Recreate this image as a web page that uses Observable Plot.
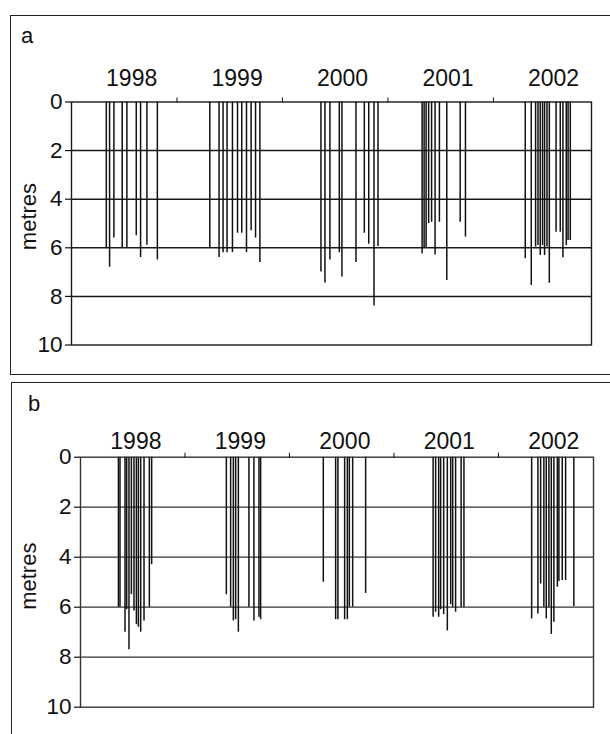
<!DOCTYPE html>
<html>
<head>
<meta charset="utf-8">
<script src="https://cdn.jsdelivr.net/npm/d3@7"></script>
<script src="https://cdn.jsdelivr.net/npm/@observablehq/plot@0.6"></script>
<style>
  html, body { margin: 0; padding: 0; background: #fff; }
  body { width: 610px; height: 734px; position: relative; overflow: hidden; font-family: "Liberation Sans", Arial, sans-serif; }
  .panel { position: absolute; border: 1.5px solid #222; box-sizing: border-box; }
  .plabel { position: absolute; font-size: 22px; color: #111; }
  .chart { position: absolute; left: 0; }
</style>
</head>
<body>
<div class="panel" style="left:10px; top:15px; width:640px; height:360px;"></div>
<div class="panel" style="left:11px; top:382px; width:640px; height:400px;"></div>
<div class="plabel" style="left:21px; top:23px;">a</div>
<div class="plabel" style="left:28px; top:391px;">b</div>
<div id="chartA" class="chart" style="top:15px;"></div>
<div id="chartB" class="chart" style="top:382px;"></div>
<script>
const years = [1998, 1999, 2000, 2001, 2002];
const yearBoundaries = [1999, 2000, 2001, 2002];
const depthTicks = [0, 2, 4, 6, 8, 10];
const gridDepths = [2, 4, 6, 8];

// Panel a: sampling times (decimal year) and depths (m)
const aTime = [
  1998.330, 1998.361, 1998.402, 1998.481, 1998.525, 1998.614, 1998.655, 1998.715, 1998.814,
  1999.311, 1999.399, 1999.437, 1999.475, 1999.526, 1999.574, 1999.614, 1999.659, 1999.703, 1999.745, 1999.786,
  2000.365, 2000.403, 2000.450, 2000.539, 2000.564, 2000.697, 2000.776, 2000.818, 2000.868, 2000.906,
  2001.324, 2001.343, 2001.362, 2001.386, 2001.414, 2001.447, 2001.488, 2001.558, 2001.685, 2001.735,
  2002.302, 2002.359, 2002.400, 2002.423, 2002.444, 2002.466, 2002.485, 2002.508, 2002.530, 2002.594, 2002.634, 2002.659, 2002.691, 2002.708, 2002.729
];
const aDepth = [
  6.0, 6.8, 5.6, 6.0, 6.0, 5.5, 6.4, 5.9, 6.5,
  6.0, 6.4, 6.2, 6.2, 6.2, 5.4, 5.4, 6.2, 5.3, 5.6, 6.6,
  7.0, 7.45, 6.5, 6.2, 7.2, 6.6, 5.4, 5.85, 8.4, 5.95,
  6.25, 6.0, 6.0, 5.0, 4.95, 6.3, 4.95, 7.35, 4.95, 5.56,
  6.45, 7.55, 5.97, 5.91, 6.32, 5.91, 6.32, 5.97, 7.46, 5.36, 5.36, 6.41, 5.91, 5.70, 5.70
];

// Panel b: sampling times (decimal year) and depths (m)
const bTime = [
  1998.363, 1998.378, 1998.426, 1998.442, 1998.464, 1998.487, 1998.512, 1998.535, 1998.554, 1998.576, 1998.608, 1998.659, 1998.681,
  1999.396, 1999.437, 1999.463, 1999.485, 1999.511, 1999.612, 1999.660, 1999.708, 1999.724,
  2000.324, 2000.442, 2000.464, 2000.528, 2000.554, 2000.573, 2000.605, 2000.729,
  2001.375, 2001.399, 2001.428, 2001.447, 2001.476, 2001.511, 2001.543, 2001.562, 2001.590, 2001.643, 2001.670,
  2002.318, 2002.378, 2002.404, 2002.435, 2002.458, 2002.483, 2002.506, 2002.531, 2002.564, 2002.579, 2002.611, 2002.643, 2002.722
];
const bDepth = [
  6.0, 6.0, 7.0, 6.1, 7.7, 5.5, 6.15, 6.7, 6.8, 7.0, 6.55, 6.0, 4.3,
  5.5, 6.0, 6.55, 6.5, 7.0, 6.0, 6.55, 6.4, 6.5,
  5.0, 6.5, 6.5, 6.5, 6.5, 6.0, 6.0, 5.45,
  6.4, 6.2, 6.4, 6.1, 6.3, 6.95, 5.9, 6.0, 6.2, 6.0, 6.0,
  6.47, 6.27, 5.07, 6.0, 6.47, 6.0, 7.09, 6.6, 5.2, 4.97, 4.93, 4.93, 5.97
];

function panel(times, depths, opt) {
  const data = times.map((t, i) => ({t, d: depths[i]}));
  const labels = years.map(y => ({t: y + opt.labelShift, label: String(y)}));
  return Plot.plot({
    width: 610,
    height: opt.height,
    marginLeft: opt.ml,
    marginRight: opt.mr,
    marginTop: opt.mt,
    marginBottom: opt.mb,
    style: {fontFamily: "Liberation Sans, Arial, sans-serif", fontSize: "22px", background: "transparent", color: "#111"},
    x: {domain: [1998, opt.xEnd]},
    y: {domain: [0, 10], reverse: true},
    marks: [
      Plot.ruleY(gridDepths, {stroke: opt.grid, strokeWidth: opt.gridW}),
      Plot.ruleX(data, {x: "t", y1: 0, y2: "d", stroke: "#111", strokeWidth: 1.5}),
      Plot.frame({stroke: opt.grid, strokeWidth: 1.4}),
      Plot.axisY({ticks: depthTicks, tickSize: 6, tickPadding: 3, fontSize: 22.5, label: null, stroke: "#111", strokeWidth: 1.2}),
      Plot.axisX({anchor: "top", ticks: yearBoundaries, tickSize: 5, tickFormat: () => "", label: null, stroke: "#111"}),
      Plot.text(labels, {x: "t", text: "label", frameAnchor: "top", lineAnchor: "bottom", dy: opt.labelDy, fontSize: 23, fill: "#111"}),
      Plot.text(["metres"], {frameAnchor: "left", textAnchor: "middle", dx: opt.metresDx, dy: opt.metresDy, rotate: -90, fontSize: 22, fill: "#111"})
    ]
  });
}

document.getElementById("chartA").appendChild(panel(aTime, aDepth, {
  height: 359, ml: 71, mr: 19, mt: 86.5, mb: 29.5, xEnd: 2002.93,
  labelShift: 0.57, labelDy: -16.5, metresDx: -43, metresDy: -7, grid: "#1a1a1a", gridW: 1.5
}));
document.getElementById("chartB").appendChild(panel(bTime, bDepth, {
  height: 352, ml: 80, mr: 17, mt: 74.7, mb: 27.3, xEnd: 2002.91,
  labelShift: 0.53, labelDy: -8.5, metresDx: -52, metresDy: -6, grid: "#333", gridW: 1.2
}));
</script>
</body>
</html>
